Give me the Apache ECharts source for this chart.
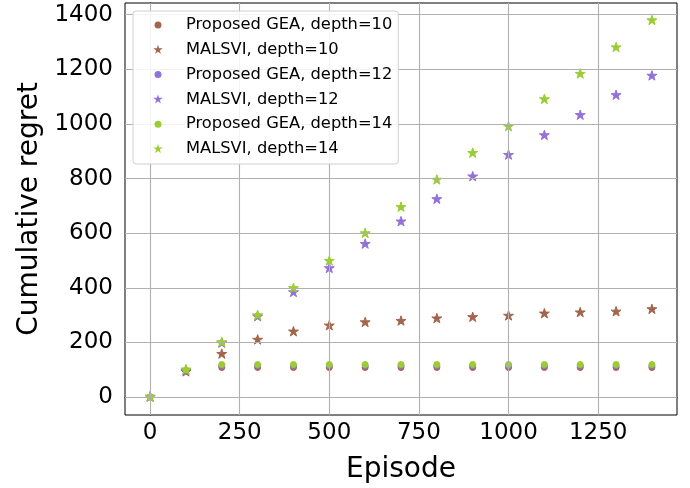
<!DOCTYPE html>
<html>
<head>
<meta charset="utf-8">
<script src="https://cdn.jsdelivr.net/npm/echarts@6/dist/echarts.min.js"></script>
<style>html,body{margin:0;padding:0;background:#fff}#c{width:690px;height:488px}</style>
</head>
<body>
<div id="c"></div>
<script>
var episodes = [0, 100, 200, 300, 400, 500, 600, 700, 800, 900, 1000, 1100, 1200, 1300, 1400];
var gea10 = [0, 95, 108, 108, 108, 108, 108, 108, 108, 108, 108, 108, 108, 108, 108];
var malsvi10 = [0, 92, 157, 209, 239, 261, 273, 278, 287, 292, 297, 305, 309, 312, 321];
var gea12 = [0, 97, 114, 114, 114, 114, 114, 114, 114, 114, 114, 114, 114, 114, 114];
var malsvi12 = [0, 97, 197, 294, 383, 471, 560, 642, 724, 807, 886, 958, 1032, 1105, 1176];
var gea14 = [0, 99, 119, 119, 119, 119, 119, 119, 119, 119, 119, 119, 119, 119, 119];
var malsvi14 = [0, 100, 200, 299, 398, 498, 599, 695, 795, 893, 990, 1090, 1183, 1280, 1379];
var xTicks = [0, 250, 500, 750, 1000, 1250];
var yTicks = [0, 200, 400, 600, 800, 1000, 1200, 1400];

var STAR = 'path://M0 0 M200 200 M100 0 L122.45 69.1 L195.1 69.1 L136.3 111.8 L158.8 180.9 L100 138.2 L41.2 180.9 L63.7 111.8 L4.9 69.1 L77.55 69.1 Z';
var DOT = 'path://M0 0 M200 200 M30 100 A70 70 0 1 0 170 100 A70 70 0 1 0 30 100 Z';
var brown = '#a3654b', purple = '#9370db', green = '#9acd32';
var font = 'DejaVu Sans';

function pts(vals) { return episodes.map(function (x, i) { return [x, vals[i]]; }); }
function ser(name, vals, color, star) {
  return {
    name: name, type: 'scatter', data: pts(vals), z: 3,
    symbol: star ? STAR : 'circle', symbolKeepAspect: true,
    symbolSize: star ? 10.5 : 6,
    itemStyle: { color: color, opacity: 1, borderColor: color, borderWidth: 1 },
    emphasis: { disabled: true }, animation: false
  };
}
var gridStyle = { color: '#b0b0b0', width: 1.1, type: 'solid' };
var gridSeries = {
  name: '_grid', type: 'scatter', data: [], z: 1, silent: true,
  markLine: {
    silent: true, symbol: ['none', 'none'], animation: false, label: { show: false },
    lineStyle: gridStyle, emphasis: { disabled: true },
    data: xTicks.map(function (v) { return { xAxis: v }; }).concat(yTicks.map(function (v) { return { yAxis: v }; }))
  }
};

var names = ['Proposed GEA, depth=10', 'MALSVI, depth=10', 'Proposed GEA, depth=12', 'MALSVI, depth=12', 'Proposed GEA, depth=14', 'MALSVI, depth=14'];

var chart = echarts.init(document.getElementById('c'), null, { renderer: 'canvas' });
chart.setOption({
  animation: false,
  backgroundColor: '#fff',
  grid: { left: 125, right: 13, top: 3, bottom: 73, show: true, borderColor: '#000', borderWidth: 1, backgroundColor: 'transparent', outerBoundsMode: 'none', containLabel: false },
  legend: {
    orient: 'vertical', left: 133, top: 11, z: 10,
    itemWidth: 10, itemHeight: 10, itemGap: 8.8,
    padding: [6, 6, 7, 20],
    itemStyle: { borderWidth: 0 },
    backgroundColor: 'rgba(255,255,255,0.85)', borderColor: '#d0d0d0', borderWidth: 1, borderRadius: 3,
    textStyle: { fontFamily: font, fontSize: 16.3, color: '#000', lineHeight: 16, padding: [0, 0, 0, 18] },
    data: names.map(function (n, i) { return { name: n, icon: i % 2 ? STAR : DOT, itemStyle: { borderWidth: 0 } }; })
  },
  xAxis: {
    type: 'value', min: -70, max: 1470,
    name: 'Episode', nameLocation: 'middle', nameGap: 41,
    nameTextStyle: { fontFamily: font, fontSize: 28, color: '#000' },
    axisLine: { show: true, lineStyle: { color: '#000', width: 1 } },
    axisTick: { show: true, length: 5, lineStyle: { color: '#000' }, customValues: xTicks },
    axisLabel: { fontFamily: font, fontSize: 23, color: '#000', margin: 7, customValues: xTicks, formatter: function (v) { return String(v); } },
    splitLine: { show: false }
  },
  yAxis: {
    type: 'value', min: -66, max: 1443,
    name: 'Cumulative regret', nameLocation: 'middle', nameGap: 79,
    nameTextStyle: { fontFamily: font, fontSize: 28, color: '#000' },
    axisLine: { show: true, lineStyle: { color: '#000', width: 1 } },
    axisTick: { show: true, length: 5, lineStyle: { color: '#000' }, customValues: yTicks },
    axisLabel: { fontFamily: font, fontSize: 23, color: '#000', margin: 12, customValues: yTicks, formatter: function (v) { return String(v); } },
    splitLine: { show: false }
  },
  series: [gridSeries].concat([
    ser(names[0], gea10, brown, false),
    ser(names[1], malsvi10, brown, true),
    ser(names[2], gea12, purple, false),
    ser(names[3], malsvi12, purple, true),
    ser(names[4], gea14, green, false),
    ser(names[5], malsvi14, green, true)
  ])
});
</script>
</body>
</html>
